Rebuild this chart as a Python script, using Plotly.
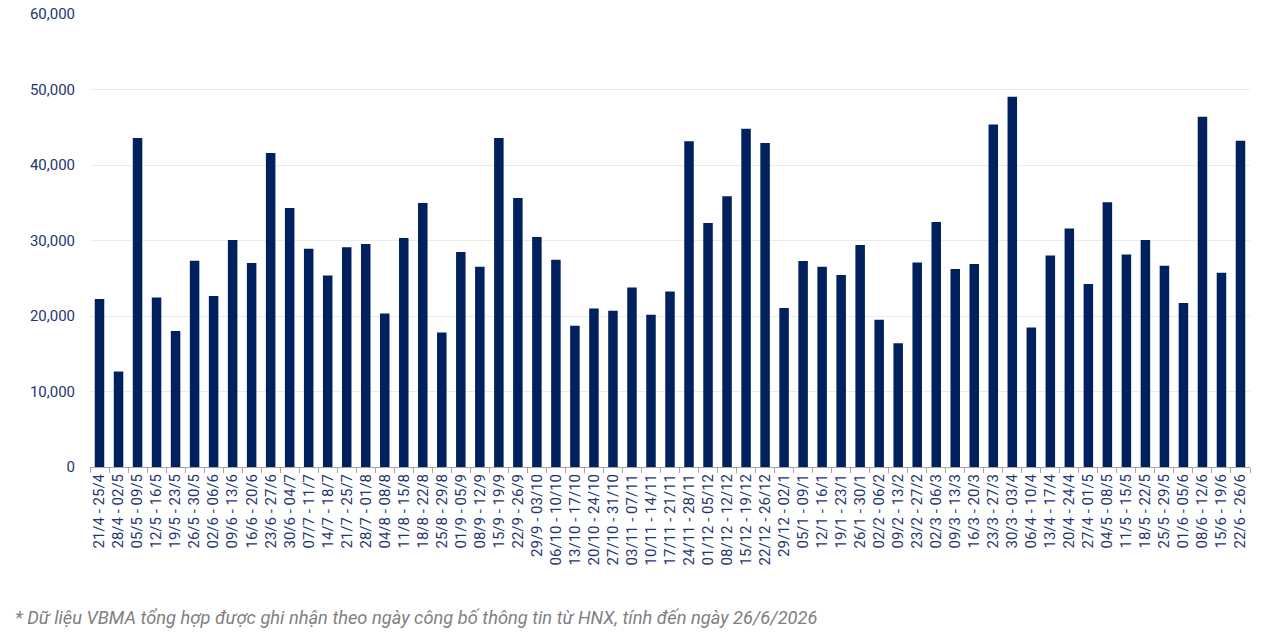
import plotly.graph_objects as go

weeks = [
    "21/4 - 25/4", "28/4 - 02/5", "05/5 - 09/5", "12/5 - 16/5", "19/5 - 23/5",
    "26/5 - 30/5", "02/6 - 06/6", "09/6 - 13/6", "16/6 - 20/6", "23/6 - 27/6",
    "30/6 - 04/7", "07/7 - 11/7", "14/7 - 18/7", "21/7 - 25/7", "28/7 - 01/8",
    "04/8 - 08/8", "11/8 - 15/8", "18/8 - 22/8", "25/8 - 29/8", "01/9 - 05/9",
    "08/9 - 12/9", "15/9 - 19/9", "22/9 - 26/9", "29/9 - 03/10", "06/10 - 10/10",
    "13/10 - 17/10", "20/10 - 24/10", "27/10 - 31/10", "03/11 - 07/11", "10/11 - 14/11",
    "17/11 - 21/11", "24/11 - 28/11", "01/12 - 05/12", "08/12 - 12/12", "15/12 - 19/12",
    "22/12 - 26/12", "29/12 - 02/1", "05/1 - 09/1", "12/1 - 16/1", "19/1 - 23/1",
    "26/1 - 30/1", "02/2 - 06/2", "09/2 - 13/2", "23/2 - 27/2", "02/3 - 06/3",
    "09/3 - 13/3", "16/3 - 20/3", "23/3 - 27/3", "30/3 - 03/4", "06/4 - 10/4",
    "13/4 - 17/4", "20/4 - 24/4", "27/4 - 01/5", "04/5 - 08/5", "11/5 - 15/5",
    "18/5 - 22/5", "25/5 - 29/5", "01/6 - 05/6", "08/6 - 12/6", "15/6 - 19/6",
    "22/6 - 26/6",
]

values = [
    22240, 12640, 43590, 22450, 18000, 27320, 22640, 30070, 27010, 41600,
    34310, 28910, 25370, 29090, 29540, 20330, 30330, 34970, 17810, 28470,
    26530, 43590, 35640, 30460, 27450, 18700, 21000, 20690, 23780, 20160,
    23250, 43140, 32320, 35850, 44790, 42930, 21050, 27280, 26530, 25420,
    29400, 19500, 16400, 27100, 32450, 26220, 26880, 45360, 49030, 18480,
    28020, 31600, 24230, 35050, 28160, 30070, 26660, 21710, 46380, 25730,
    43200,
]

y_ticks = [0, 10000, 20000, 30000, 40000, 50000, 60000]

footnote = ("* Dữ liệu VBMA tổng hợp được ghi nhận theo ngày công bố thông tin từ HNX, "
            "tính đến ngày 26/6/2026")

navy = "#00215E"
label_color = "#1E3670"

fig = go.Figure(go.Bar(x=weeks, y=values, marker=dict(color=navy, line=dict(width=0))))

fig.update_layout(
    width=1280, height=637,
    margin=dict(l=90, r=30, t=14, b=170, autoexpand=False),
    paper_bgcolor="white", plot_bgcolor="white",
    bargap=0.5,
    showlegend=False,
    font=dict(family="Roboto", color=label_color, size=15),
    xaxis=dict(
        type="category",
        tickangle=-90,
        automargin=False,
        tickfont=dict(family="Roboto", size=15, color=label_color),
        showline=True, linecolor="#A6A6A6", linewidth=1,
        ticks="outside", tickcolor="#A6A6A6", ticklen=5,
        tickson="boundaries",
        showgrid=False,
    ),
    yaxis=dict(
        range=[0, 60000],
        tickvals=y_ticks,
        tickformat=",d",
        automargin=False,
        tickfont=dict(family="Roboto", size=15, color=label_color),
        showgrid=True, gridcolor="#EBEBEB", gridwidth=1,
        zeroline=False,
        ticklabelstandoff=14,
    ),
    annotations=[dict(
        text=footnote, xref="paper", yref="paper",
        x=-0.066, y=-0.332, xanchor="left", yanchor="middle",
        showarrow=False,
        font=dict(family="Roboto", size=18.3, color="#7F7F7F", style="italic"),
    )],
)

fig.write_html("out.html")
